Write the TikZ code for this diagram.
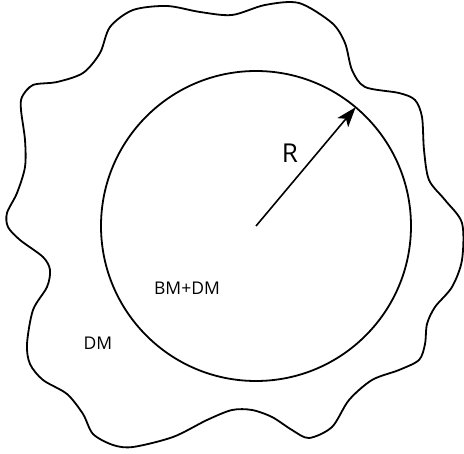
\documentclass[tikz,border=0pt]{standalone}
\usepackage{fontspec}
\newfontfamily\labfont{Open Sans}
\usetikzlibrary{arrows.meta}
\begin{document}
\begin{tikzpicture}[x=1pt,y=-1pt,
  outline/.style={line width=1.8pt},
  lab/.style={font=\labfont\fontsize{17.5}{20}\selectfont, inner sep=0pt}]
\useasboundingbox (0,0) rectangle (464,454);
\draw[outline] plot[smooth cycle, tension=0.5] coordinates {
 (167,6) (200,12) (232,15) (265,5) (299,3) (332,23) (345,43) (352,70) (365,87)
 (399,93) (415,100) (422,117) (424,150) (429,180) (445,200) (462,223) (462,260)
 (452,287) (435,307) (427,324) (425,344) (419,360) (399,370) (372,380) (349,400)
 (332,427) (309,438) (292,430) (272,417) (252,410) (232,410) (207,420) (173,437)
 (133,447) (113,445) (93,434) (83,414) (67,394) (43,380) (30,364) (27,344)
 (33,310) (47,287) (50,270) (43,257) (20,240) (8,227) (7,213) (17,193) (25,167)
 (25,140) (21,110) (22,97) (33,85) (57,82) (83,73) (100,53) (110,27) (133,10)};
\node[outline, draw, circle, minimum size=310pt, inner sep=0pt, outer sep=0pt] (c) at (256,226) {};
\draw[outline, line width=1.6pt, -{Stealth[length=20pt,width=14pt,inset=5pt]}] (c.center) -- (c.50);
\node[lab, font=\labfont\fontsize{26}{30}\selectfont] (r) at (290,153) {R};
\node[lab] (bm) at (187,288) {BM+DM};
\node[lab] (dm) at (98,343) {DM};
\end{tikzpicture}
\end{document}
